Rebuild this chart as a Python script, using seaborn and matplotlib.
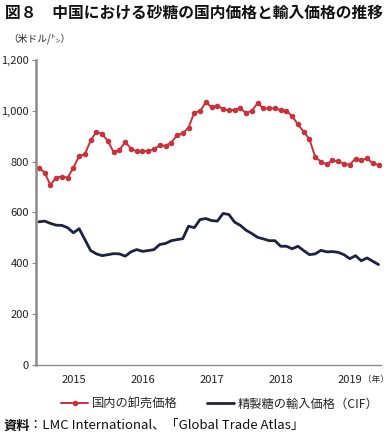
import matplotlib
matplotlib.use("Agg")
from matplotlib import pyplot as plt
import pandas as pd
import seaborn as sns

# monthly prices, US$/t (60 months)
domestic = [776, 757, 708, 737, 741, 737, 776, 822, 829, 884, 917, 908, 881, 836, 846, 877, 851, 840, 840, 842,
            849, 864, 862, 875, 904, 911, 934, 993, 999, 1033, 1014, 1020, 1007, 1001, 1004, 1009, 991, 1000, 1030,
            1009, 1009, 1009, 1003, 1000, 978, 947, 917, 888, 818, 800, 789, 805, 801, 792, 788, 812, 805, 813, 793, 787]
imported = [563, 566, 557, 550, 549, 540, 520, 536, 493, 450, 437, 430, 434, 438, 437, 428, 445, 454, 447, 450,
            454, 474, 478, 489, 493, 497, 546, 540, 572, 576, 568, 566, 596, 592, 562, 549, 530, 517, 502,
            496, 489, 489, 467, 467, 457, 467, 450, 434, 437, 451, 445, 446, 443, 434, 418, 430, 410, 421, 408, 395]
years = ["2015", "2016", "2017", "2018", "2019"]
year_pos = [6, 18, 30, 42, 54]
yticks = [0, 200, 400, 600, 800, 1000, 1200]

df = pd.DataFrame({"month": range(len(domestic)), "domestic": domestic, "imported": imported})

sns.set_style("white")
plt.rcParams['font.family'] = ['Noto Sans CJK JP', 'DejaVu Sans']

red = "#c9313b"
navy = "#1d2340"
grey = "#8a8a8a"

fig = plt.figure(figsize=(3.89, 4.34), dpi=100)
ax = fig.add_axes([0.0925, 0.159, 0.888, 0.703])

sns.lineplot(data=df, x="month", y="domestic", ax=ax, color=red, lw=1.4,
             marker="o", markersize=4, markeredgewidth=0, label="国内の卸売価格")
sns.lineplot(data=df, x="month", y="imported", ax=ax, color=navy, lw=2.0,
             label="精製糖の輸入価格（CIF）")

ax.set_xlim(-0.5, 59.5)
ax.set_ylim(0, 1200)
ax.set_yticks(yticks)
ax.set_yticklabels([f"{v:,}" for v in yticks])
ax.set_xticks(year_pos)
ax.set_xticklabels(years)
ax.set_xticks([i - 0.5 for i in range(61)], minor=True)
ax.tick_params(axis="x", which="major", length=0, pad=7, labelsize=8, labelcolor="#222222")
ax.tick_params(axis="x", which="minor", length=3, width=0.6, color=grey, direction="out")
ax.tick_params(axis="y", length=3, width=0.8, color=grey, pad=2, labelsize=8, labelcolor="#222222", left=True)
ax.set_xlabel("")
ax.set_ylabel("")
for s in ["top", "right"]:
    ax.spines[s].set_visible(False)
ax.spines["left"].set_color(grey)
ax.spines["left"].set_linewidth(1.8)
ax.spines["bottom"].set_color(grey)
ax.spines["bottom"].set_linewidth(1.0)

handles, labels = ax.get_legend_handles_labels()
ax.legend_.remove()
fig.legend(handles, labels, loc="center", bbox_to_anchor=(0.565, 0.069), ncol=2, frameon=False,
           fontsize=8.8, handlelength=2.2, columnspacing=2.4, handletextpad=0.3)

fig.text(0.012, 0.972, "図８　中国における砂糖の国内価格と輸入価格の推移", fontsize=11.35,
         fontweight="bold", va="center", ha="left", color="#111111")
fig.text(0.02, 0.912, "（米ドル/㌧）", fontsize=7, va="center", ha="left", color="#222222")
fig.text(1.0, 0.125, "（年）", fontsize=6.2, va="center", ha="right", color="#222222")
fig.text(0.008, 0.02, "資料", fontsize=9.5, fontweight="bold", va="center", ha="left", color="#111111")
fig.text(0.075, 0.02, "：LMC International、「Global Trade Atlas」", fontsize=9.5,
         va="center", ha="left", color="#111111")

fig.savefig("out.png", dpi=100)
